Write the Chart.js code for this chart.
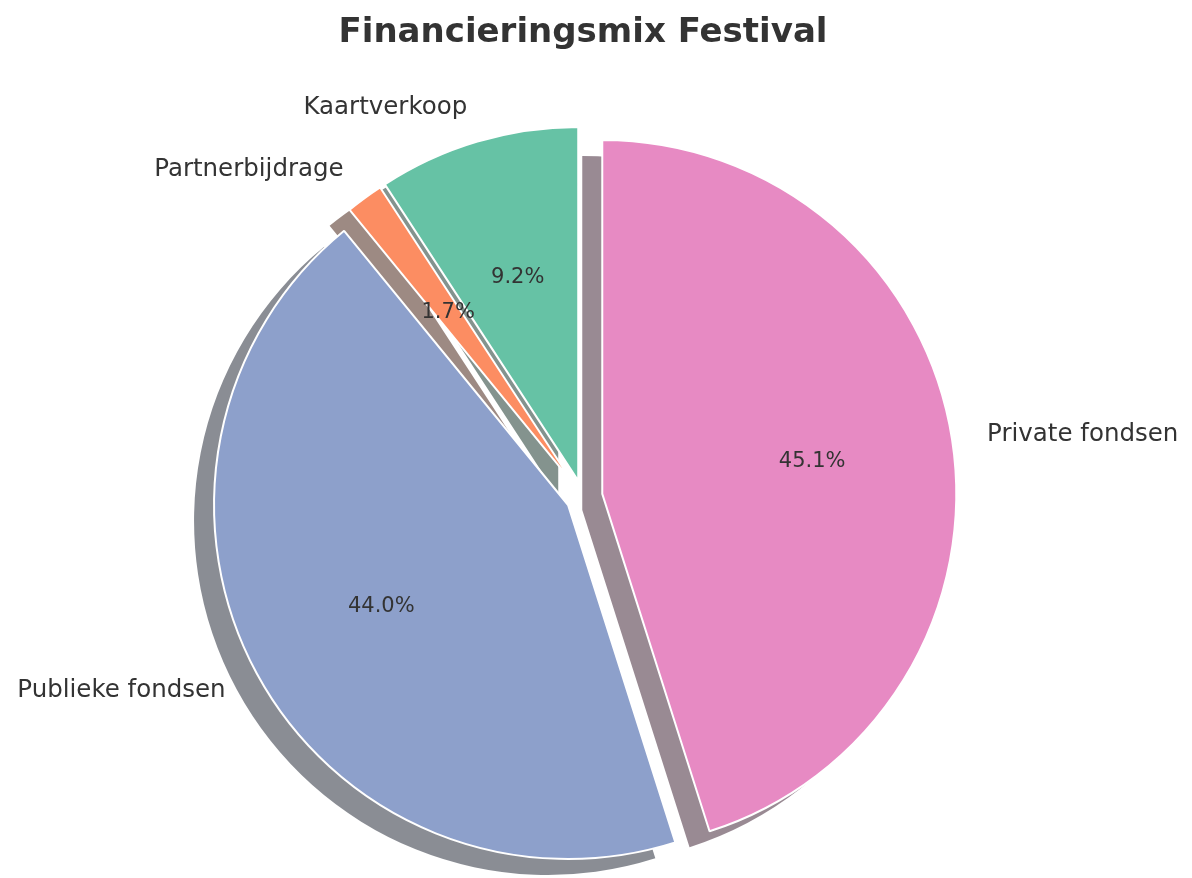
<!DOCTYPE html>
<html>
<head>
<meta charset="utf-8">
<script src="https://cdn.jsdelivr.net/npm/chart.js@4"></script>
<style>
  body { margin: 0; background: #fff; }
  #wrap { width: 1192px; height: 878px; }
</style>
</head>
<body>
<div id="wrap"><canvas id="chart_mix"></canvas></div>
<script>
// clockwise from the top, like the reference (matplotlib went counterclockwise)
const labels = ['Private fondsen', 'Publieke fondsen', 'Partnerbijdrage', 'Kaartverkoop'];
const shares = [45.1, 44.0, 1.7, 9.2];
const colors = ['#e78ac3', '#8da0cb', '#fc8d62', '#66c2a5'];

// explode per slice, in pixels
const explode = [19.5, 17, 16, 16.7];
const shadowOffset = [-20, 16];

function shadowColor(hex) {
  const r = parseInt(hex.slice(1, 3), 16);
  const g = parseInt(hex.slice(3, 5), 16);
  const b = parseInt(hex.slice(5, 7), 16);
  return 'rgba(' + Math.round(r * 0.3) + ',' + Math.round(g * 0.3) + ',' + Math.round(b * 0.3) + ',0.55)';
}

const pieDrawer = {
  id: 'pieDrawer',
  beforeDatasetDraw(chart, args) {
    const ctx = chart.ctx;
    const arcs = args.meta.data;
    // draw in matplotlib order: shadow, then wedge
    for (let i = arcs.length - 1; i >= 0; i--) {
      const arc = arcs[i];
      const mid = (arc.startAngle + arc.endAngle) / 2;
      const ex = Math.cos(mid) * explode[i];
      const ey = Math.sin(mid) * explode[i];
      const opts = arc.options;

      ctx.save();
      ctx.translate(ex + shadowOffset[0], ey + shadowOffset[1]);
      arc.options = Object.assign({}, opts, {backgroundColor: shadowColor(colors[i]), borderWidth: 0});
      arc.draw(ctx);
      arc.options = opts;
      ctx.restore();

      ctx.save();
      ctx.translate(ex, ey);
      arc.draw(ctx);
      ctx.restore();
    }
    return false;
  },
  afterDatasetsDraw(chart) {
    const ctx = chart.ctx;
    const arcs = chart.getDatasetMeta(0).data;
    const total = shares.reduce((a, b) => a + b, 0);
    ctx.save();
    ctx.fillStyle = '#333';
    ctx.textBaseline = 'middle';
    arcs.forEach((arc, i) => {
      const mid = (arc.startAngle + arc.endAngle) / 2;
      const cx = arc.x + Math.cos(mid) * explode[i];
      const cy = arc.y + Math.sin(mid) * explode[i];
      const R = arc.outerRadius;

      ctx.font = '24.5px "DejaVu Sans"';
      ctx.textAlign = Math.cos(mid) > 0 ? 'left' : 'right';
      ctx.fillText(labels[i], cx + Math.cos(mid) * R * 1.1, cy + Math.sin(mid) * R * 1.1);

      ctx.font = '21px "DejaVu Sans"';
      ctx.textAlign = 'center';
      const pct = (shares[i] / total * 100).toFixed(1) + '%';
      ctx.fillText(pct, cx + Math.cos(mid) * R * 0.6, cy + Math.sin(mid) * R * 0.6);
    });
    ctx.restore();
  }
};

new Chart(document.getElementById('chart_mix'), {
  type: 'pie',
  data: {
    labels: labels,
    datasets: [{
      data: shares,
      backgroundColor: colors,
      borderColor: '#ffffff',
      borderWidth: 2,
      radius: 354,
      clip: false
    }]
  },
  options: {
    responsive: true,
    maintainAspectRatio: false,
    animation: false,
    events: [],
    layout: {
      padding: {left: 0, right: 26, top: 0, bottom: 0}
    },
    plugins: {
      legend: {display: false},
      tooltip: {enabled: false},
      title: {
        display: true,
        text: 'Financieringsmix Festival',
        color: '#333',
        font: {family: 'DejaVu Sans', size: 34, weight: 'bold'},
        padding: {top: 13, bottom: 62}
      }
    }
  },
  plugins: [pieDrawer]
});
</script>
</body>
</html>
